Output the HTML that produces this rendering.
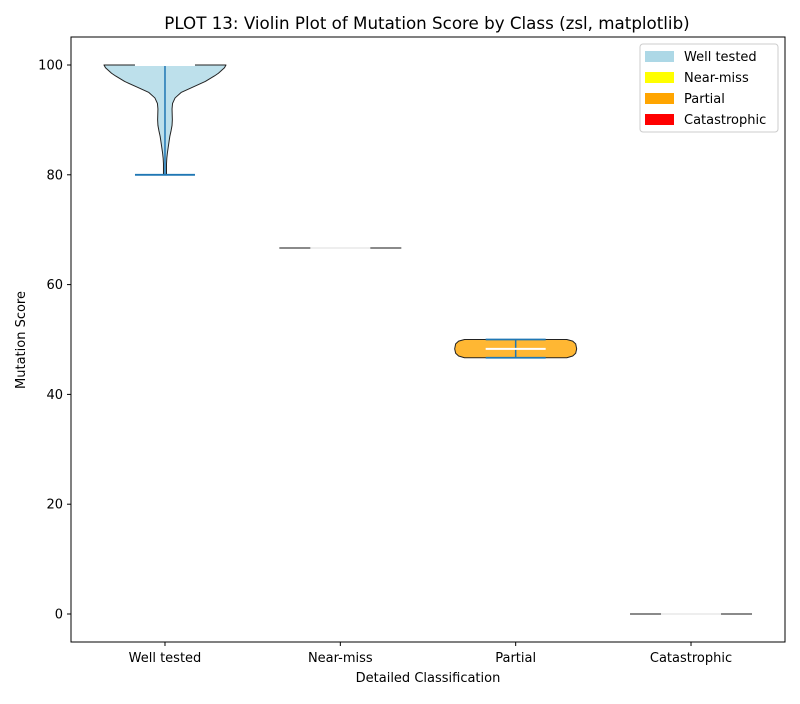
<!DOCTYPE html>
<html><head><meta charset="utf-8"><style>
body{margin:0;background:#fff;font-family:"DejaVu Sans","Liberation Sans",sans-serif;}
svg text{font-family:"DejaVu Sans","Liberation Sans",sans-serif;}
</style></head><body>
<svg id="chart" width="800" height="700" xmlns="http://www.w3.org/2000/svg"></svg>
<script>
const categories = ["Well tested","Near-miss","Partial","Catastrophic"];
const colors = ["#add8e6","#ffff00","#ffa500","#ff0000"];
const yTicks = [0,20,40,60,80,100];
const wtVals = [100,99.5,99,98.5,98,97,96,95,94,93,92,90,89,88,87,86,85,84,83,82,81,80];
const wtDens = [60.5,59,56,53,49,40,28,16,10,7.5,7,7.3,7,6,4.8,4,3.2,2.4,1.8,1.5,1.5,1.5];
const nmVals = [66.67];
const partVals = [46.67,47,47.5,48.3,49.2,49.7,50];
const partDens = [52,58,61,62,61,58,52];
const catVals = [0];
const mins = [80,66.67,46.67,0];
const maxs = [100,66.67,50,0];
const medians = [100,66.67,48.3,0];

const L=71,R=785,T=37,B=642;
const xs=i=>L+(i+0.536)/(4.072)*(R-L);
const ys=v=>B-(v+5.1)/110.2*(B-T);
const svg=document.getElementById('chart');
const NS="http://www.w3.org/2000/svg";
function mk(tag,attrs,parent){const e=document.createElementNS(NS,tag);for(const k in attrs)e.setAttribute(k,attrs[k]);(parent||svg).appendChild(e);return e;}

let t=mk('text',{x:427,y:29,'text-anchor':'middle','font-size':16.7,fill:'#000'});t.textContent="PLOT 13: Violin Plot of Mutation Score by Class (zsl, matplotlib)";



function violin(i,vals,dens,fill){
  const maxD=Math.max(...dens), scale=61/maxD, cx=xs(i);
  let pts=[];
  vals.forEach((v,k)=>pts.push([cx+dens[k]*scale,ys(v)]));
  for(let k=vals.length-1;k>=0;k--)pts.push([cx-dens[k]*scale,ys(vals[k])]);
  const p=mk('polygon',{points:pts.map(p=>p.join(',')).join(' '),fill:fill,'fill-opacity':0.8,stroke:'#222','stroke-width':1,'stroke-linejoin':'round'});
  
  
}
violin(0,wtVals,wtDens,colors[0]);
violin(2,partVals,partDens,colors[2]);
[[1,nmVals],[3,catVals]].forEach(([i,v])=>{
  const l=mk('line',{x1:xs(i)-61,x2:xs(i)+61,y1:ys(v[0]),y2:ys(v[0]),stroke:'#444','stroke-width':1.2});
  
  
});
for(let i=0;i<4;i++){
  const cx=xs(i);
  if(maxs[i]>mins[i]){
    const v=mk('line',{x1:cx,x2:cx,y1:ys(maxs[i]),y2:ys(mins[i]),stroke:'#1f77b4','stroke-width':1.5});
    
    
    [mins[i],maxs[i]].forEach(val=>{
      const c=mk('line',{x1:cx-30,x2:cx+30,y1:ys(val),y2:ys(val),stroke:'#1f77b4','stroke-width':1.8});
      
      
    });
  }
  const m=mk('line',{x1:cx-30,x2:cx+30,y1:ys(medians[i]),y2:ys(medians[i]),stroke:'#fff','stroke-width':2,'stroke-opacity':maxs[i]>mins[i]?1:0.85});
  
  
}

const ax=mk('rect',{x:L,y:T,width:R-L,height:B-T,fill:'none',stroke:'#000','stroke-width':1});


yTicks.forEach(v=>{
  mk('line',{x1:L-4,x2:L,y1:ys(v),y2:ys(v),stroke:'#000'});
  const tt=mk('text',{x:L-8,y:ys(v)+4.5,'text-anchor':'end','font-size':13});tt.textContent=v;
  
  
});
categories.forEach((c,i)=>{
  mk('line',{x1:xs(i),x2:xs(i),y1:B,y2:B+4,stroke:'#000'});
  const tt=mk('text',{x:xs(i),y:B+20,'text-anchor':'middle','font-size':13});tt.textContent=c;
  
  
});
t=mk('text',{x:428,y:682,'text-anchor':'middle','font-size':13});t.textContent="Detailed Classification";


t=mk('text',{x:25,y:340,'text-anchor':'middle','font-size':13,transform:'rotate(-90 25 340)'});t.textContent="Mutation Score";



const lg=mk('g',{});


mk('rect',{x:640,y:44,width:138,height:88,rx:3,fill:'#fff','fill-opacity':0.8,stroke:'#ccc'},lg);
categories.forEach((c,i)=>{
  const g=mk('g',{},lg);
  
  
  mk('rect',{x:645,y:51+i*21,width:29,height:11,fill:colors[i]},g);
  const tt=mk('text',{x:684,y:61+i*21,'font-size':13},g);tt.textContent=c;
});
</script>
</body></html>
